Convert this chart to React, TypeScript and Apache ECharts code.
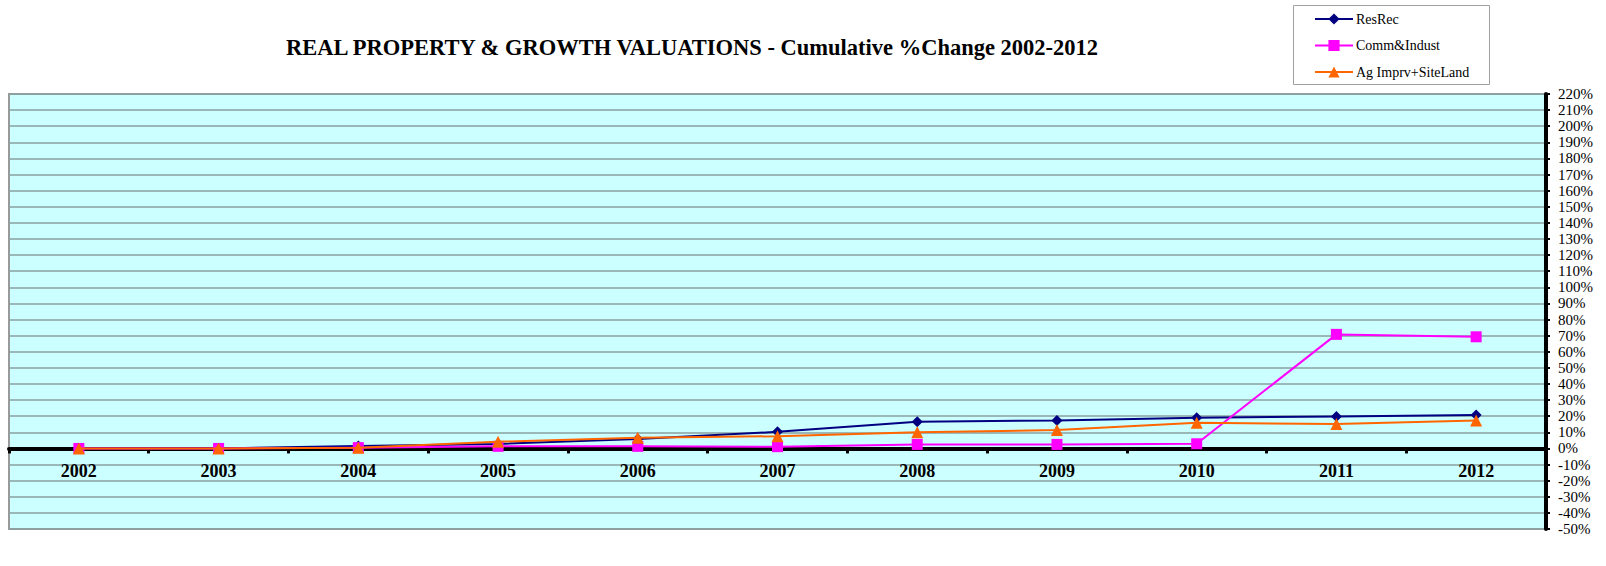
import React, { useEffect, useRef } from "react";
import * as echarts from "echarts";

const years = ["2002", "2003", "2004", "2005", "2006", "2007", "2008", "2009", "2010", "2011", "2012"];
const resRec = [0, 0, 1.5, 2.8, 5.8, 10.3, 16.6, 17.4, 19.0, 19.9, 20.7];
const commIndust = [0, 0, 0.5, 1.3, 1.3, 1.1, 2.5, 2.5, 2.9, 70.8, 69.3];
const agImprv = [0, 0, 0.5, 4.2, 6.6, 7.6, 10.1, 11.4, 16.0, 15.1, 17.4];
const titleText = "REAL PROPERTY & GROWTH VALUATIONS - Cumulative %Change 2002-2012";

const serif = "'Liberation Serif', 'Times New Roman', 'DejaVu Serif', serif";

const Y_MIN = -50;
const Y_MAX = 220;
const GRID_TOP = 94;
const GRID_BOTTOM = 37;
const CHART_H = 566;

export default function App() {
  const ref = useRef<HTMLDivElement>(null);
  useEffect(() => {
    if (!ref.current) return;
    const chart = echarts.init(ref.current, undefined, { renderer: "svg" });
    const gridH = CHART_H - GRID_TOP - GRID_BOTTOM;
    const zeroOffset = -(gridH * (0 - Y_MIN)) / (Y_MAX - Y_MIN);
    chart.setOption({
      animation: false,
      backgroundColor: "#ffffff",
      textStyle: { fontFamily: serif },
      graphic: [
        {
          type: "text",
          x: 692,
          y: 47,
          style: {
            text: titleText,
            fontFamily: serif,
            fontSize: 22.5,
            fontWeight: "bold",
            fill: "#000",
            textAlign: "center",
            textVerticalAlign: "middle",
          },
        },
        {
          type: "rect",
          shape: { x: 1293.5, y: 5.5, width: 196, height: 79 },
          style: { fill: "#fff", stroke: "#a0a0a0", lineWidth: 1 },
          z: -1,
        },
      ],
      legend: {
        orient: "vertical",
        left: 1314,
        top: 12,
        padding: 0,
        itemWidth: 38,
        itemHeight: 14,
        itemGap: 12.5,
        textStyle: { fontFamily: serif, fontSize: 14, color: "#000", padding: [0, 0, 0, -2] },
        data: ["ResRec", "Comm&Indust", "Ag Imprv+SiteLand"],
      },
      grid: {
        left: 9,
        right: 60,
        top: GRID_TOP,
        bottom: GRID_BOTTOM,
        show: true,
        backgroundColor: "#ccffff",
        borderColor: "#9a9a9a",
        borderWidth: 2,
        containLabel: false,
      },
      xAxis: {
        type: "category",
        data: years,
        boundaryGap: true,
        offset: zeroOffset,
        axisLine: { show: true, onZero: false, lineStyle: { color: "#000", width: 4 } },
        axisTick: { show: true, length: 5, lineStyle: { color: "#000", width: 3 } },
        axisLabel: {
          margin: 14,
          fontFamily: serif,
          fontSize: 18,
          fontWeight: "bold",
          color: "#000",
        },
        splitLine: { show: false },
      },
      yAxis: {
        type: "value",
        position: "right",
        min: Y_MIN,
        max: Y_MAX,
        interval: 10,
        axisLine: { show: true, lineStyle: { color: "#000", width: 4 } },
        axisTick: { show: true, length: 4, lineStyle: { color: "#000", width: 2 } },
        axisLabel: {
          margin: 12,
          fontFamily: serif,
          fontSize: 15,
          color: "#000",
          formatter: (v: number) => `${v}%`,
        },
        splitLine: { show: true, lineStyle: { color: "#8aa0a0", width: 1.5 } },
      },
      series: [
        {
          name: "ResRec",
          type: "line",
          data: resRec,
          symbol: "diamond",
          symbolSize: 11,
          color: "#000080",
          lineStyle: { width: 2, color: "#000080" },
          itemStyle: { color: "#000080" },
          z: 3,
        },
        {
          name: "Comm&Indust",
          type: "line",
          data: commIndust,
          symbol: "rect",
          symbolSize: 11,
          color: "#ff00ff",
          lineStyle: { width: 2, color: "#ff00ff" },
          itemStyle: { color: "#ff00ff" },
          z: 4,
        },
        {
          name: "Ag Imprv+SiteLand",
          type: "line",
          data: agImprv,
          symbol: "triangle",
          symbolSize: 12,
          color: "#ff6600",
          lineStyle: { width: 2, color: "#ff6600" },
          itemStyle: { color: "#ff6600" },
          z: 5,
        },
      ],
    });
    return () => chart.dispose();
  }, []);
  return (
    <div
      ref={ref}
      style={{ position: "fixed", left: 0, top: 0, width: 1606, height: 566 }}
    />
  );
}
